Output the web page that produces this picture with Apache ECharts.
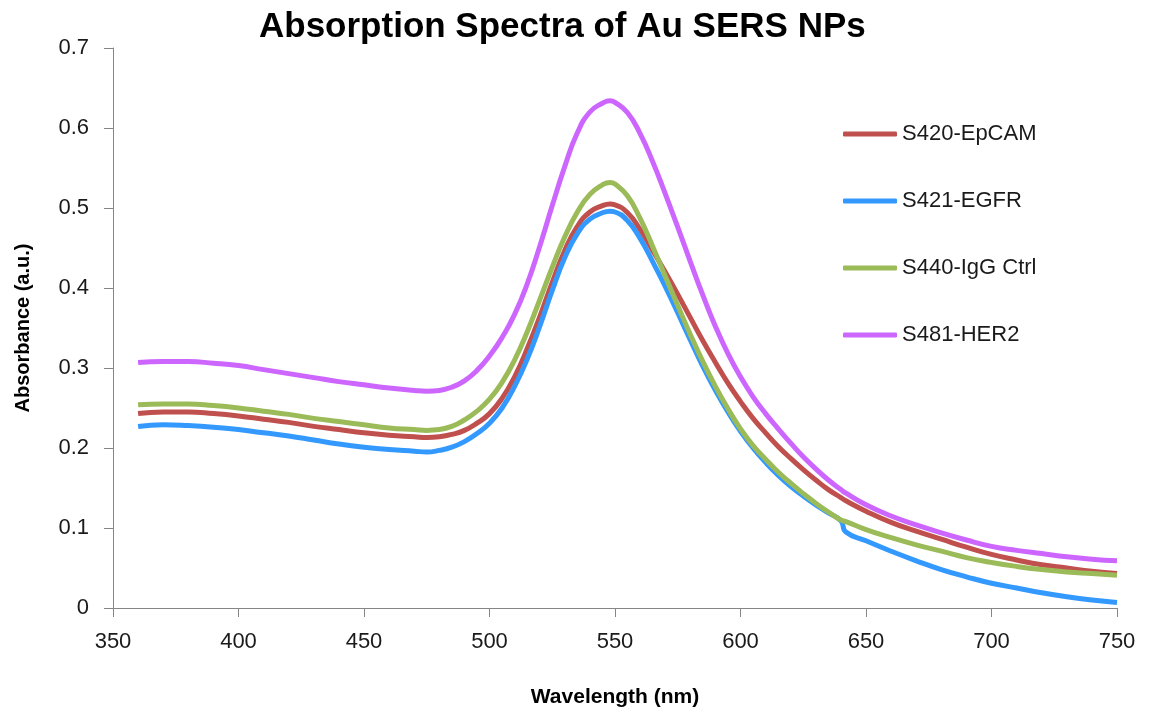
<!DOCTYPE html>
<html>
<head>
<meta charset="utf-8">
<script src="https://cdn.jsdelivr.net/npm/echarts@6/dist/echarts.min.js"></script>
<style>
html,body{margin:0;padding:0;background:#fff;}
#chart{width:1150px;height:715px;}
</style>
</head>
<body>
<div id="chart"></div>
<script>
const wavelengths = [360,370,380,390,400,410,420,430,440,450,460,
  470,475,480,485,490,495,500,505,510,515,520,525,530,535,540,545,548,550,555,560,565,570,575,580,585,590,595,600,605,610,615,620,625,630,635,640,
  642,
  650,660,670,680,690,700,710,720,730,740,750];

const s420EpCAM = [0.243,0.245,0.245,0.243,0.240,0.236,0.232,0.227,0.223,0.219,0.216,
  0.214,0.213,0.214,0.217,0.222,0.231,0.243,0.262,0.289,0.324,0.364,0.407,0.447,0.477,0.495,0.503,0.505,0.504,0.494,0.473,0.447,0.420,0.392,0.363,0.334,0.307,0.281,0.258,0.237,0.219,0.202,0.187,0.173,0.160,0.148,0.138,
  0.134,
  0.121,0.107,0.096,0.086,0.076,0.067,0.060,0.054,0.050,0.046,0.043];

const s421EGFR = [0.227,0.229,0.228,0.226,0.223,0.219,0.215,0.210,0.205,0.201,0.198,
  0.196,0.195,0.197,0.201,0.208,0.218,0.231,0.250,0.277,0.311,0.352,0.397,0.438,0.468,0.486,0.494,0.496,0.495,0.484,0.462,0.433,0.402,0.369,0.335,0.302,0.272,0.245,0.221,0.200,0.182,0.166,0.152,0.140,0.129,0.119,0.109,
  0.095,
  0.084,0.071,0.059,0.048,0.039,0.031,0.025,0.019,0.014,0.010,0.007];

const s440IgGCtrl = [0.254,0.255,0.255,0.253,0.250,0.246,0.242,0.237,0.233,0.229,0.225,
  0.223,0.222,0.223,0.227,0.235,0.246,0.261,0.282,0.310,0.345,0.385,0.426,0.464,0.495,0.517,0.529,0.532,0.530,0.515,0.487,0.452,0.415,0.378,0.342,0.308,0.277,0.249,0.224,0.203,0.186,0.170,0.156,0.143,0.131,0.120,0.110,
  0.108,
  0.098,0.088,0.079,0.071,0.063,0.057,0.052,0.048,0.045,0.043,0.041];

const s481HER2 = [0.307,0.308,0.308,0.306,0.303,0.298,0.293,0.288,0.283,0.279,0.275,
  0.272,0.271,0.272,0.276,0.284,0.297,0.315,0.338,0.367,0.405,0.452,0.503,0.552,0.594,0.620,0.631,0.634,0.632,0.619,0.593,0.558,0.518,0.476,0.433,0.391,0.352,0.318,0.289,0.264,0.243,0.224,0.206,0.189,0.174,0.160,0.148,
  0.1435,
  0.129,0.115,0.104,0.094,0.085,0.077,0.072,0.068,0.064,0.061,0.059];

const seriesNames = ['S420-EpCAM','S421-EGFR','S440-IgG Ctrl','S481-HER2'];
const seriesValues = [s420EpCAM, s421EGFR, s440IgGCtrl, s481HER2];
const seriesColors = ['#C0504D','#3399FF','#9BBB59','#CC66FF'];

const FONT = '"Liberation Sans", Arial, sans-serif';
const chart = echarts.init(document.getElementById('chart'), null, {renderer:'canvas'});

const series = seriesNames.map((name, i) => ({
  name: name,
  type: 'line',
  data: wavelengths.map((w, j) => [w, seriesValues[i][j]]),
  smooth: 0.5,
  showSymbol: false,
  symbol: 'none',
  lineStyle: {color: seriesColors[i], width: 5},
  itemStyle: {color: seriesColors[i]},
  animation: false
}));

chart.setOption({
  backgroundColor: '#ffffff',
  animation: false,
  title: {
    text: 'Absorption Spectra of Au SERS NPs',
    left: 254,
    top: 5,
    textStyle: {fontFamily: FONT, fontSize: 35, fontWeight: 'bold', color: '#000'}
  },
  legend: {
    orient: 'vertical',
    left: 838,
    top: 118,
    itemWidth: 54,
    itemHeight: 5,
    itemGap: 45,
    icon: 'roundRect',
    data: seriesNames,
    textStyle: {fontFamily: FONT, fontSize: 22, color: '#1a1a1a', lineHeight: 22}
  },
  grid: {left: 113, right: 33, top: 48, bottom: 107, containLabel: false},
  xAxis: {
    type: 'value',
    min: 350, max: 750, interval: 50,
    name: 'Wavelength (nm)',
    nameLocation: 'middle',
    nameGap: 79,
    nameTextStyle: {fontFamily: FONT, fontSize: 21, fontWeight: 'bold', color: '#000'},
    axisLine: {show: true, lineStyle: {color: '#868686', width: 1}},
    axisTick: {show: true, length: 9, lineStyle: {color: '#868686'}},
    axisLabel: {fontFamily: FONT, fontSize: 22, color: '#1a1a1a', margin: 23},
    splitLine: {show: false}
  },
  yAxis: {
    type: 'value',
    min: 0, max: 0.7, interval: 0.1,
    name: 'Absorbance (a.u.)',
    nameLocation: 'middle',
    nameGap: 80,
    nameRotate: 90,
    nameTextStyle: {fontFamily: FONT, fontSize: 20, fontWeight: 'bold', color: '#000'},
    axisLine: {show: true, lineStyle: {color: '#868686', width: 1}},
    axisTick: {show: true, length: 9, lineStyle: {color: '#868686'}},
    axisLabel: {fontFamily: FONT, fontSize: 22, color: '#1a1a1a', margin: 24,
      formatter: v => String(+v.toFixed(1))},
    splitLine: {show: false}
  },
  series: series
});
</script>
</body>
</html>
